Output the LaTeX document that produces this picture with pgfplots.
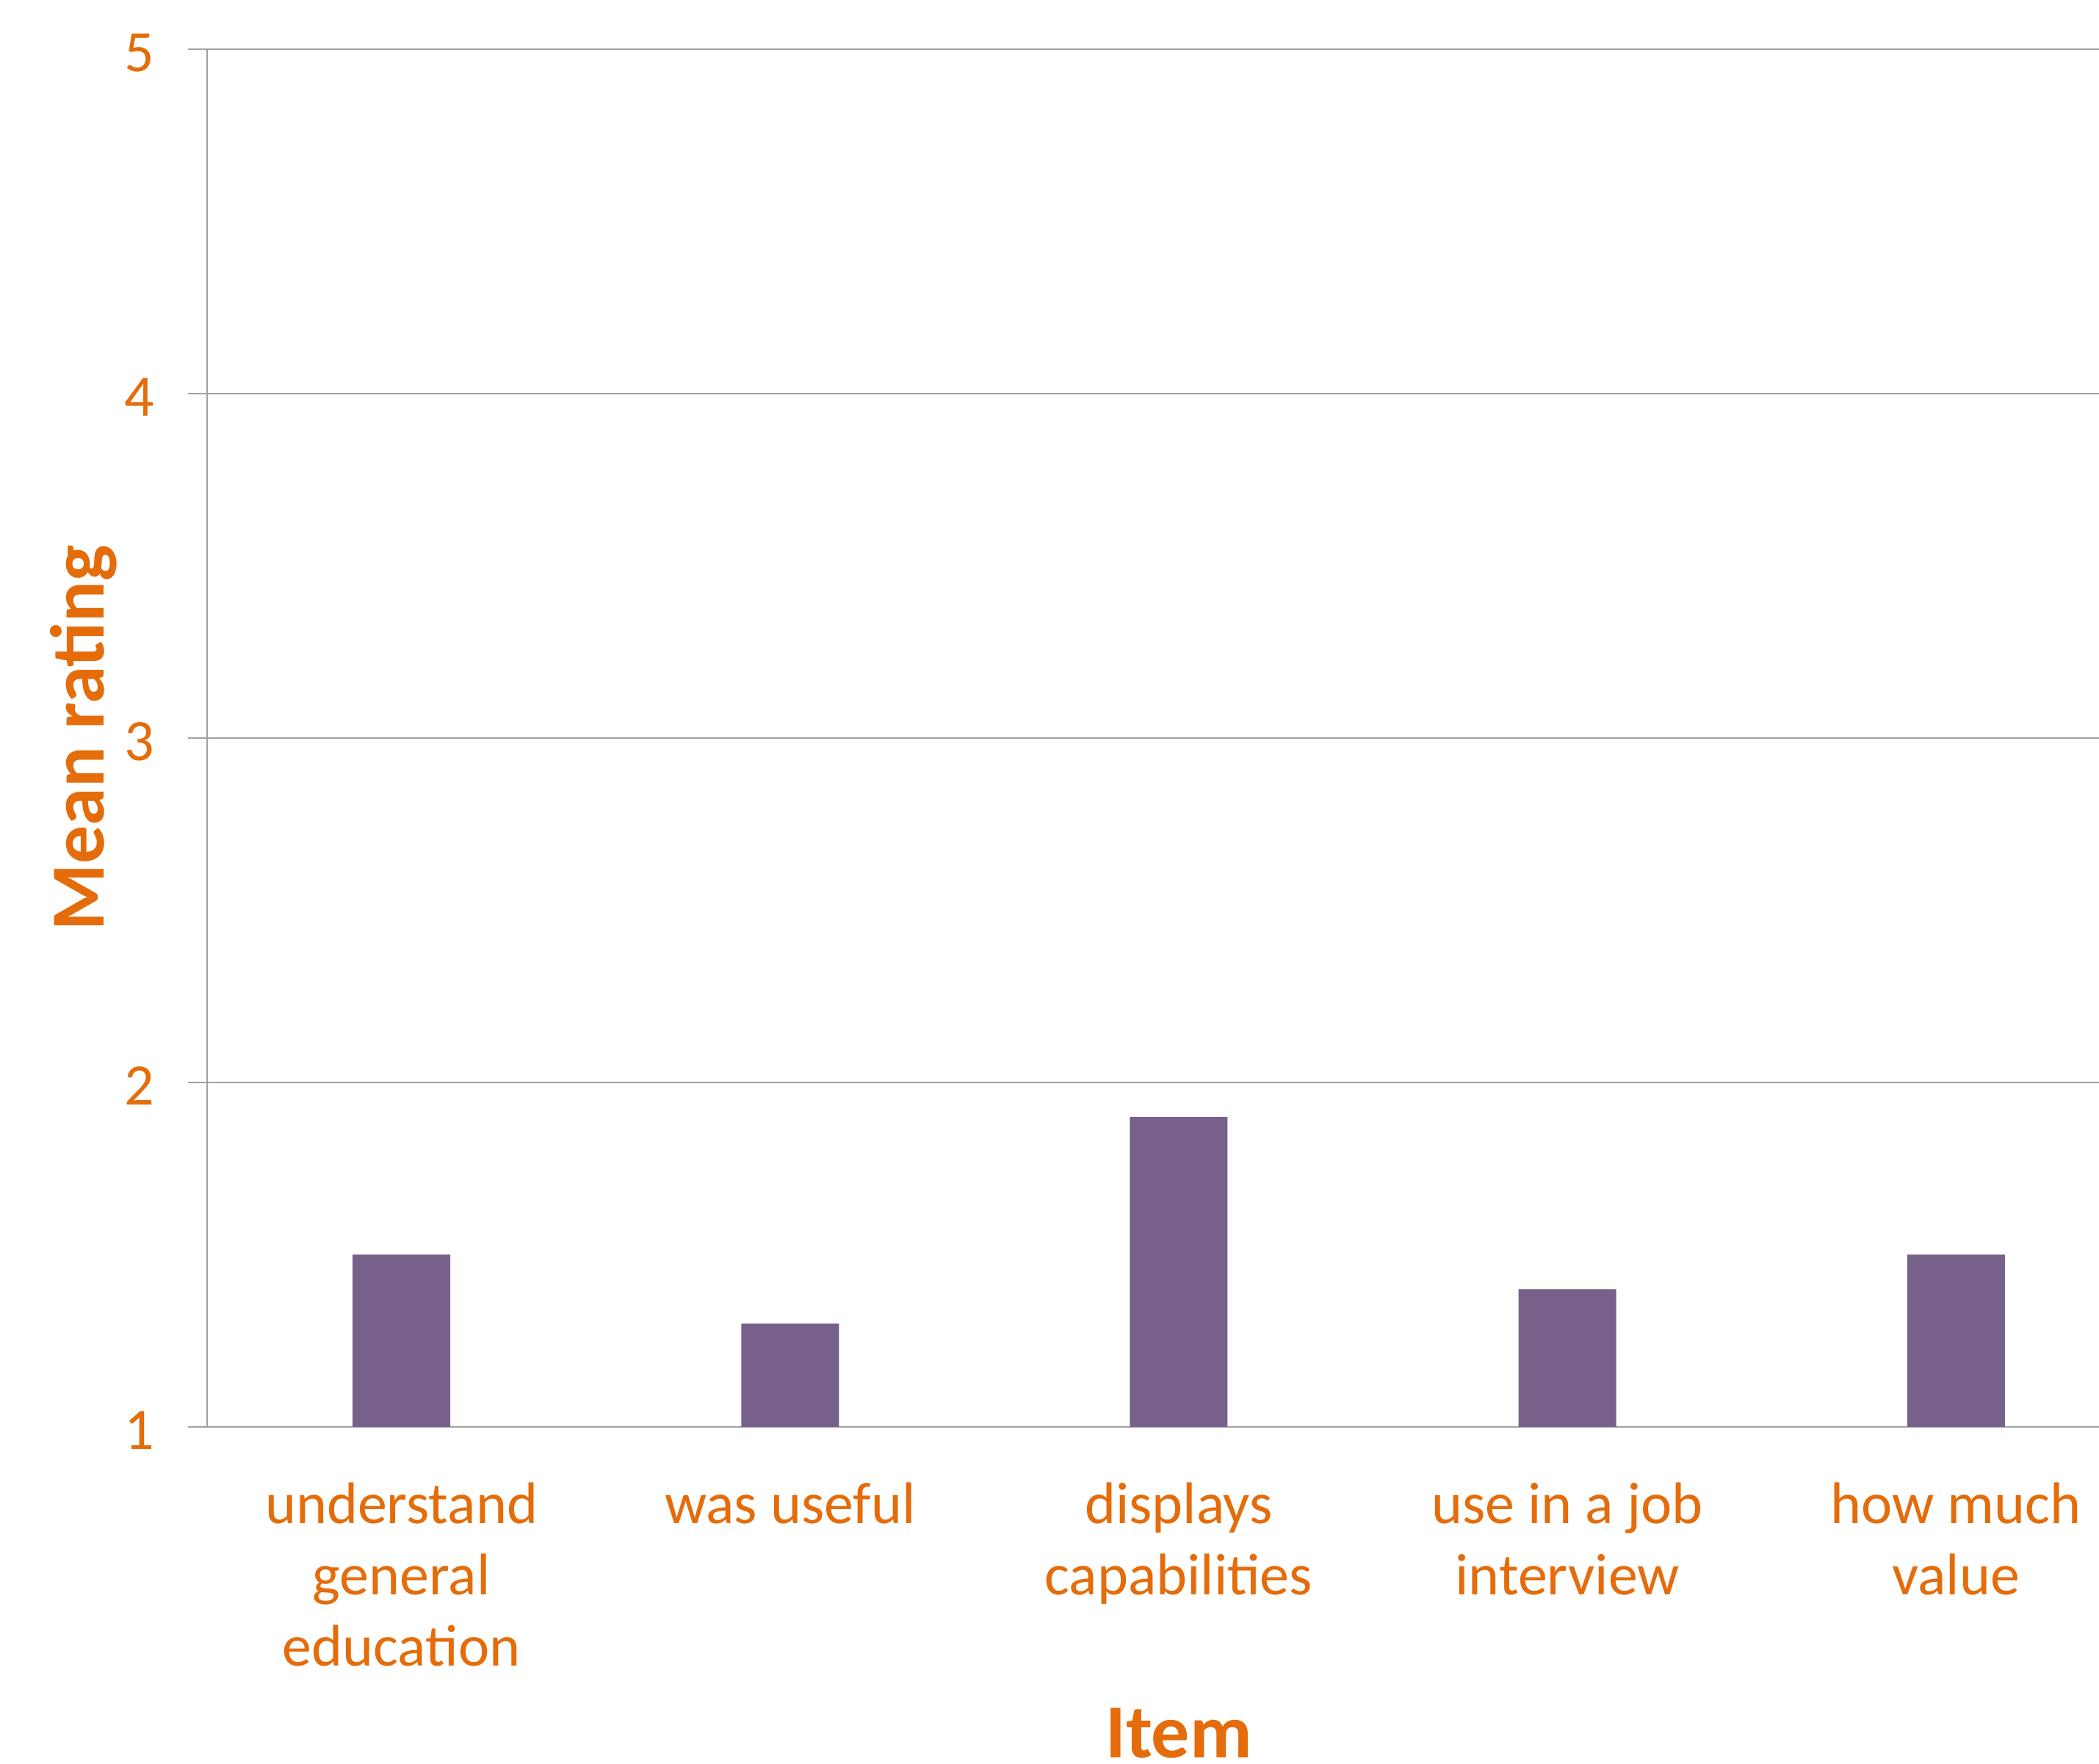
\documentclass[border=0pt]{standalone}
\usepackage{fontspec}
\setmainfont{Carlito}
\usepackage{pgfplots}
\pgfplotsset{compat=1.18}
\definecolor{txtorange}{HTML}{E46C0A}
\definecolor{barpurple}{HTML}{77618B}
\definecolor{gridgray}{HTML}{A0A0A0}

\begin{document}
\begin{tikzpicture}
\begin{axis}[
    scale only axis,
    width=644pt, height=469pt,
    xmin=-0.5, xmax=4.368,
    ymin=1, ymax=5,
    ytick={1,2,3,4,5},
    xtick=data,
    xticklabels={{understand\\general\\education},{was useful},{displays\\capabilities},{use in a job\\interview},{how much\\value}},
    axis x line*=bottom,
    axis y line*=left,
    axis line style={gridgray, line width=0.6pt},
    ymajorgrids,
    grid style={gridgray, line width=0.6pt},
    tick align=outside,
    major tick length=6.5pt,
    ytick style={gridgray, line width=0.6pt},
    xtick style={draw=none},
    /pgf/number format/assume math mode=true,
    yticklabel style={font=\fontsize{20}{24}\selectfont, text=txtorange, xshift=-8pt, yshift=-1.2pt},
    xticklabel style={font=\fontsize{20}{24.25}\selectfont, text=txtorange, align=center, yshift=-9pt},
    xlabel={\textbf{Item}},
    ylabel={\textbf{Mean rating}},
    xlabel style={font=\fontsize{26}{30}\selectfont, text=txtorange,
        at={(axis description cs:0.5136,-0.2402)}, anchor=base},
    ylabel style={font=\fontsize{26}{30}\selectfont, text=txtorange,
        at={(axis description cs:-0.0547,0.5)}, anchor=base},
    ybar, bar width=33.25pt,
]
\addplot[fill=barpurple, draw=none] coordinates {
    (0, 1.5)
    (1, 1.3)
    (2, 1.9)
    (3, 1.4)
    (4, 1.5)
};
\coordinate (bl) at (rel axis cs:0,0);
\coordinate (tr) at (rel axis cs:1,1);
\end{axis}
\pgfresetboundingbox
\path ([xshift=-70.5pt,yshift=-114.75pt]bl) rectangle ([yshift=16.75pt]tr);
\end{tikzpicture}
\end{document}
